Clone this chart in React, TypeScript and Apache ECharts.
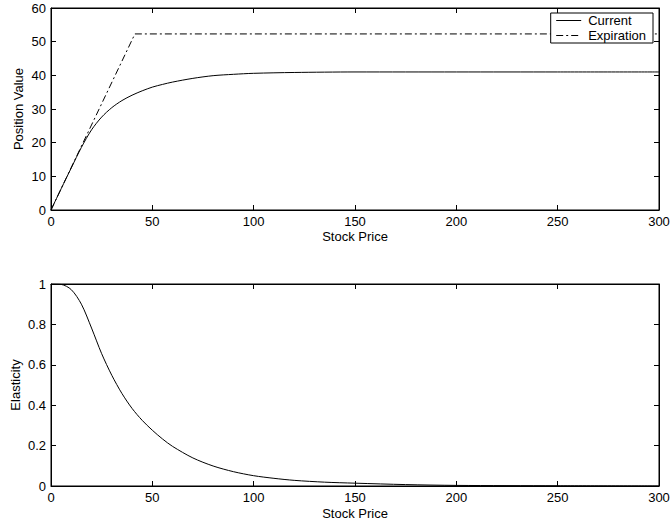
import React, { useEffect, useRef } from "react";
import * as echarts from "echarts";

const currentPrice = [0, 5, 10, 15, 20, 25, 30, 35, 40, 45, 50, 55, 60, 70, 80, 90, 100, 120, 150, 200, 250, 300];
const currentValue = [0, 6.3, 12.5, 18.6, 23.8, 27.6, 30.4, 32.5, 34.1, 35.4, 36.5, 37.3, 38.0, 39.1, 39.9, 40.3, 40.6, 40.85, 41.0, 41.0, 41.0, 41.0];
const expirationPrice = [0, 41.4, 300];
const expirationValue = [0, 52.3, 52.3];
const elasticityPrice = [0, 5, 10, 15, 20, 25, 30, 35, 40, 45, 50, 55, 60, 70, 80, 90, 100, 110, 120, 135, 150, 175, 200, 250, 300];
const elasticityValue = [1, 0.998, 0.972, 0.9, 0.782, 0.655, 0.548, 0.458, 0.384, 0.325, 0.276, 0.233, 0.196, 0.139, 0.099, 0.071, 0.051, 0.038, 0.028, 0.019, 0.014, 0.007, 0.003, 0.001, 0];

const FONT = "Liberation Sans, Arial, Helvetica, sans-serif";

const zip = (a: number[], b: number[]) => a.map((v, i) => [v, b[i]]);

export default function App() {
  const ref = useRef<HTMLDivElement>(null);
  useEffect(() => {
    if (!ref.current) return;
    const chart = echarts.init(ref.current, null, { renderer: "svg" });
    const gridCommon = {
      left: 51,
      width: 608,
      height: 202,
      show: true,
      borderColor: "#000",
      borderWidth: 1,
      backgroundColor: "#fff",
      containLabel: false,
      outerBoundsMode: "none",
    };
    const tick = { show: true, inside: true, length: 5, lineStyle: { color: "#000" } };
    const line = { show: true, onZero: false, lineStyle: { color: "#000", width: 1 } };
    const label = { color: "#000", fontSize: 13, fontFamily: FONT, margin: 5 };
    const nameStyle = { color: "#000", fontSize: 13, fontFamily: FONT };
    const mainX = (gridIndex: number, gap: number) => ({
      type: "value",
      gridIndex,
      min: 0,
      max: 300,
      interval: 50,
      name: "Stock Price",
      nameLocation: "middle",
      nameGap: gap,
      nameMoveOverlap: false,
      nameTextStyle: nameStyle,
      axisLine: line,
      axisTick: tick,
      axisLabel: label,
      splitLine: { show: false },
    });
    const mirrorX = (gridIndex: number) => ({
      type: "value",
      gridIndex,
      position: "top",
      min: 0,
      max: 300,
      interval: 50,
      axisLine: line,
      axisTick: tick,
      axisLabel: { show: false },
      splitLine: { show: false },
    });
    const mainY = (gridIndex: number, max: number, interval: number, name: string, gap: number) => ({
      type: "value",
      gridIndex,
      min: 0,
      max,
      interval,
      name,
      nameLocation: "middle",
      nameGap: gap,
      nameMoveOverlap: false,
      nameTextStyle: nameStyle,
      axisLine: line,
      axisTick: tick,
      axisLabel: label,
      splitLine: { show: false },
    });
    const mirrorY = (gridIndex: number, max: number, interval: number) => ({
      type: "value",
      gridIndex,
      position: "right",
      min: 0,
      max,
      interval,
      axisLine: line,
      axisTick: tick,
      axisLabel: { show: false },
      splitLine: { show: false },
    });
    chart.setOption({
      animation: false,
      backgroundColor: "#fff",
      grid: [
        { ...gridCommon, top: 8 },
        { ...gridCommon, top: 284 },
      ],
      xAxis: [mainX(0, 20), mirrorX(0), mainX(1, 21), mirrorX(1)],
      yAxis: [
        mainY(0, 60, 10, "Position Value", 26.5),
        mirrorY(0, 60, 10),
        mainY(1, 1, 0.2, "Elasticity", 29.5),
        mirrorY(1, 1, 0.2),
      ],
      legend: {
        show: true,
        orient: "vertical",
        right: 17,
        top: 13,
        backgroundColor: "#fff",
        borderColor: "#000",
        borderWidth: 1,
        borderRadius: 0,
        padding: [1, 7, 1, 5],
        itemGap: 2,
        itemWidth: 25,
        itemHeight: 14,
        itemStyle: { opacity: 0 },
        lineStyle: { width: 1 },
        textStyle: { color: "#000", fontSize: 13, fontFamily: FONT, padding: [0, 0, 0, 2] },
        data: ["Current", "Expiration"],
      },
      series: [
        {
          name: "Current",
          type: "line",
          xAxisIndex: 0,
          yAxisIndex: 0,
          data: zip(currentPrice, currentValue),
          smooth: 0.3,
          symbol: "none",
          lineStyle: { color: "#000", width: 1 },
          itemStyle: { color: "#000" },
        },
        {
          name: "Expiration",
          type: "line",
          xAxisIndex: 0,
          yAxisIndex: 0,
          data: zip(expirationPrice, expirationValue),
          symbol: "none",
          lineStyle: { color: "#000", width: 1, type: [7, 3, 2, 3] },
          itemStyle: { color: "#000" },
        },
        {
          name: "Elasticity",
          type: "line",
          xAxisIndex: 2,
          yAxisIndex: 2,
          data: zip(elasticityPrice, elasticityValue),
          smooth: 0.3,
          symbol: "none",
          lineStyle: { color: "#000", width: 1 },
          itemStyle: { color: "#000" },
        },
      ],
    });
    return () => chart.dispose();
  }, []);
  return <div ref={ref} style={{ width: 670, height: 524, position: "absolute", left: 0, top: 0 }} />;
}
